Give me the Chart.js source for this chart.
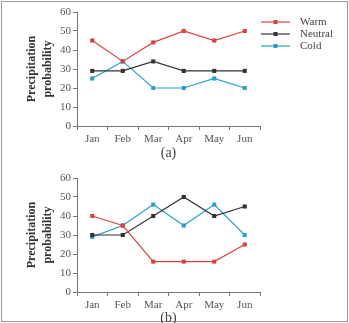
<!DOCTYPE html>
<html>
<head>
<meta charset="utf-8">
<script src="https://cdn.jsdelivr.net/npm/chart.js@4/dist/chart.umd.min.js"></script>
<style>
    html, body { margin: 0; padding: 0; background: #fff; overflow: hidden; }
    #frame { position: absolute; left: 1px; top: 1px; width: 347px; height: 321px; border: 1px solid #999; box-sizing: border-box; }
    .box { position: absolute; left: 0; width: 349px; height: 165px; }
</style>
</head>
<body>
<div id="frame"></div>
<div class="box" style="top:0"><canvas id="chartA" width="349" height="165"></canvas></div>
<div class="box" style="top:165px"><canvas id="chartB" width="349" height="165"></canvas></div>
<script>
// Data
const months = ["Jan", "Feb", "Mar", "Apr", "May", "Jun"];
const seriesNames = ["Warm", "Neutral", "Cold"];
const seriesColours = ["#d6433f", "#333333", "#2b9fc9"];

// (a)
const warmA = [45, 34, 44, 50, 45, 50];
const neutralA = [29, 29, 34, 29, 29, 29];
const coldA = [25, 34, 20, 20, 25, 20];

// (b)
const warmB = [40, 35, 16, 16, 16, 25];
const neutralB = [30, 30, 40, 50, 40, 45];
const coldB = [29, 35, 46, 35, 46, 30];

const yTicks = [0, 10, 20, 30, 40, 50, 60];

const axisColour = "#777";
const textColour = "#555";
const serif = "'Liberation Serif', 'Times New Roman', serif";

function makeSets(arrs) {
    let sets = [];
    for (let i = 0; i < arrs.length; i++) {
        sets.push({
            label: seriesNames[i],
            data: arrs[i],
            borderColor: seriesColours[i],
            backgroundColor: seriesColours[i],
            borderWidth: 1.2,
            pointStyle: 'rect',
            pointRadius: 2.9,
            pointBorderWidth: 0,
            pointHoverRadius: 2.9,
            tension: 0
        });
    }
    return sets;
}

// little legend drawn to the right of the top chart
const legendPlugin = {
    id: 'sideLegend',
    afterDraw(chart) {
        const ctx = chart.ctx;
        ctx.save();
        for (let i = 0; i < seriesNames.length; i++) {
            let y = 22 + i * 12;
            ctx.strokeStyle = seriesColours[i];
            ctx.fillStyle = seriesColours[i];
            ctx.lineWidth = 1.2;
            ctx.beginPath();
            ctx.moveTo(261, y);
            ctx.lineTo(290, y);
            ctx.stroke();
            ctx.fillRect(273.5, y - 2, 4, 4);
            ctx.fillStyle = "#444";
            ctx.font = "11px " + serif;
            ctx.textBaseline = "middle";
            ctx.fillText(seriesNames[i], 300, y + 0.5);
        }
        ctx.restore();
    }
};

function makeChart(id, arrs, caption, padTop, plugins) {
    return new Chart(document.getElementById(id), {
        type: 'line',
        data: {
            labels: months,
            datasets: makeSets(arrs)
        },
        plugins: plugins,
        options: {
            responsive: false,
            animation: false,
            events: [],
            layout: {
                padding: { left: 20, right: 89, top: padTop, bottom: 0 }
            },
            plugins: {
                legend: { display: false },
                tooltip: { enabled: false }
            },
            scales: {
                x: {
                    offset: true,
                    grid: {
                        offset: true,
                        drawOnChartArea: false,
                        tickLength: 4,
                        tickColor: axisColour
                    },
                    border: { color: axisColour, width: 1 },
                    ticks: {
                        color: textColour,
                        font: { family: serif, size: 11 },
                        padding: 3,
                        maxRotation: 0
                    },
                    title: {
                        display: true,
                        text: caption,
                        color: "#444",
                        font: { family: serif, size: 14 },
                        padding: { top: 0, bottom: 3 }
                    },
                    afterFit(s) { s.height = 165 - 126 - padTop + 12; }
                },
                y: {
                    min: 0,
                    max: 60,
                    afterBuildTicks(s) { s.ticks = yTicks.map(v => ({ value: v })); },
                    grid: {
                        drawOnChartArea: false,
                        tickLength: 4,
                        tickColor: axisColour
                    },
                    border: { color: axisColour, width: 1 },
                    ticks: {
                        color: textColour,
                        font: { family: serif, size: 11 },
                        padding: 2
                    },
                    title: {
                        display: true,
                        text: ["Precipitation", "probability"],
                        color: "#333",
                        font: { family: serif, size: 12, weight: 'bold', lineHeight: 1.33 },
                        padding: { top: 4, bottom: 0 }
                    },
                    afterFit(s) { s.width = 57; }
                }
            }
        }
    });
}

makeChart("chartA", [warmA, neutralA, coldA], "(a)", 12, [legendPlugin]);
makeChart("chartB", [warmB, neutralB, coldB], "(b)", 13, []);
</script>
</body>
</html>
